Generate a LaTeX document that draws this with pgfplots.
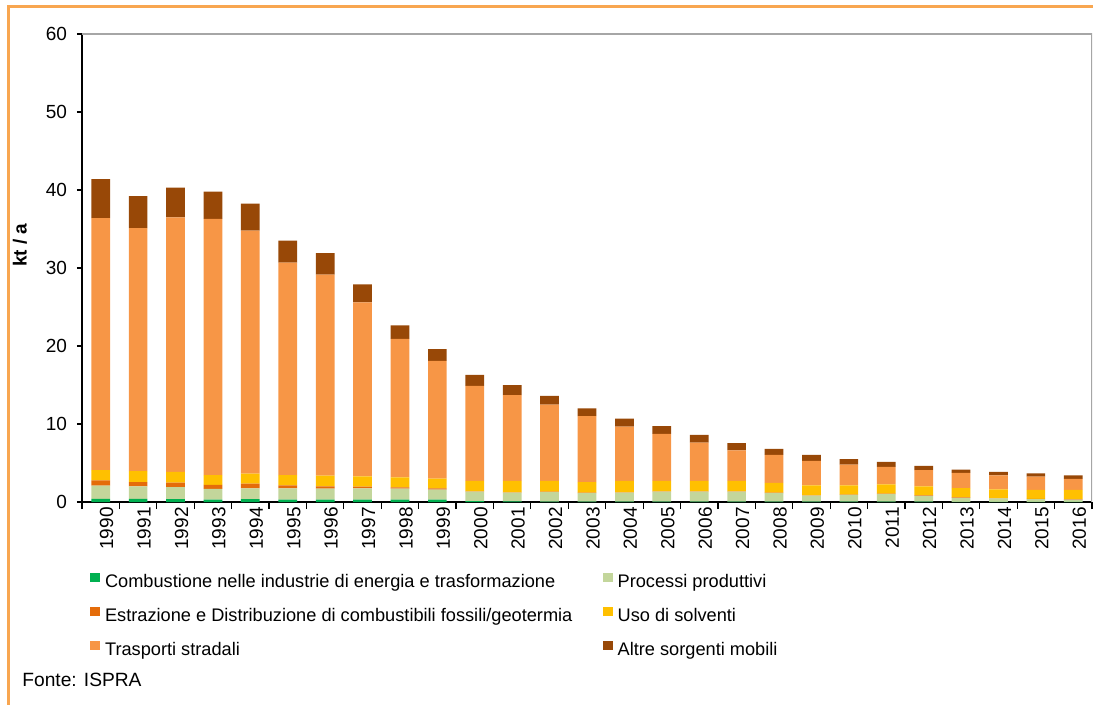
\documentclass[border=0pt]{standalone}
\usepackage{fontspec}
\setmainfont{Liberation Sans}
\usepackage{pgfplots}
\pgfplotsset{compat=1.18}
\usepackage{pgfplotstable}

\definecolor{combu}{RGB}{0,176,80}
\definecolor{proc}{RGB}{195,214,155}
\definecolor{estr}{RGB}{228,108,10}
\definecolor{solv}{RGB}{255,192,0}
\definecolor{trasp}{RGB}{247,150,70}
\definecolor{altre}{RGB}{152,72,7}
\definecolor{cornice}{RGB}{248,166,80}

% kt/a per settore, 1990-2016
\pgfplotstableread{
x year comb proc estr solv trasp altre
0  1990 0.40 1.70 0.68 1.32 32.30 5.00
1  1991 0.40 1.60 0.56 1.41 31.13 4.10
2  1992 0.38 1.54 0.56 1.37 32.65 3.80
3  1993 0.30 1.37 0.51 1.28 32.84 3.50
4  1994 0.38 1.37 0.60 1.28 31.17 3.45
5  1995 0.30 1.45 0.39 1.32 27.24 2.80
6  1996 0.30 1.41 0.29 1.38 25.77 2.75
7  1997 0.30 1.45 0.21 1.33 22.31 2.30
8  1998 0.30 1.41 0.17 1.28 17.74 1.75
9  1999 0.30 1.28 0.17 1.24 15.11 1.50
10 2000 0.10 1.22 0.05 1.33 12.20 1.40
11 2001 0.08 1.12 0.05 1.45 11.00 1.30
12 2002 0.06 1.22 0.05 1.37  9.80 1.10
13 2003 0.06 1.09 0.05 1.36  8.44 1.00
14 2004 0.05 1.15 0.05 1.45  6.95 1.05
15 2005 0.05 1.27 0.05 1.33  6.02 1.02
16 2006 0.05 1.27 0.05 1.33  4.90 0.99
17 2007 0.05 1.27 0.05 1.33  3.92 0.94
18 2008 0.05 1.10 0.05 1.24  3.59 0.77
19 2009 0.04 0.77 0.05 1.28  3.12 0.77
20 2010 0.04 0.86 0.06 1.18  2.65 0.71
21 2011 0.04 0.97 0.05 1.20  2.23 0.64
22 2012 0.04 0.75 0.05 1.16  2.10 0.52
23 2013 0.03 0.51 0.05 1.20  1.93 0.43
24 2014 0.03 0.42 0.05 1.12  1.80 0.43
25 2015 0.03 0.33 0.04 1.14  1.71 0.43
26 2016 0.03 0.29 0.04 1.18  1.41 0.47
}\emissioni

\begin{document}
\begin{tikzpicture}
\useasboundingbox (0,0) rectangle (546.5pt,-352.5pt);
\draw[cornice, line width=1.5pt] (4pt,-353pt) -- (4pt,-3.5pt) -- (547pt,-3.5pt);
\begin{axis}[
  at={(41pt,-251pt)}, anchor=south west,
  scale only axis, width=505pt, height=234pt,
  font=\fontsize{9.5}{11}\selectfont,
  /pgf/number format/assume math mode=true,
  ybar stacked, bar width=0.5,
  xmin=-0.5, xmax=26.5, ymin=0, ymax=60,
  axis lines*=left, axis line style={-, black, line width=0.6pt},
  tick align=outside, major tick length=2.5pt,
  tick style={black, line width=0.6pt},
  ytick={0,10,...,60},
  yticklabel style={xshift=-1.5pt},
  xtick={0,...,26},
  xticklabels from table={\emissioni}{year},
  major x tick style={draw=none},
  minor xtick={-0.5,0.5,...,26.5},
  minor tick length=3.5pt,
  xticklabel style={rotate=90, anchor=east, inner sep=0pt, yshift=-3pt},
  ylabel={\textbf{kt / a}},
  ylabel style={at={(axis description cs:-0.0614,0.549)}, anchor=center, rotate=0},
  legend columns=2,
  legend cell align=left,
  legend image code/.code={\fill[#1, draw=none] (0pt,0.5pt) rectangle (4.8pt,4.9pt);},
  legend style={at={(axis description cs:0.008,-0.1506)}, anchor=north west,
    draw=none, fill=none, inner sep=0pt, column sep=2.5pt, row sep=7.95pt,
    font=\fontsize{9.1}{11}\selectfont,
    nodes={inner sep=0pt, text height=6.5pt, text depth=1.8pt}},
]
\addplot[fill=combu, draw=none] table[x=x, y=comb]{\emissioni};
\addlegendentry{\makebox[246.5pt][l]{Combustione nelle industrie di energia e trasformazione}}
\addplot[fill=proc, draw=none] table[x=x, y=proc]{\emissioni};
\addlegendentry{Processi produttivi}
\addplot[fill=estr, draw=none] table[x=x, y=estr]{\emissioni};
\addlegendentry{\makebox[246.5pt][l]{Estrazione e Distribuzione di combustibili fossili/geotermia}}
\addplot[fill=solv, draw=none] table[x=x, y=solv]{\emissioni};
\addlegendentry{Uso di solventi}
\addplot[fill=trasp, draw=none] table[x=x, y=trasp]{\emissioni};
\addlegendentry{\makebox[246.5pt][l]{Trasporti stradali}}
\addplot[fill=altre, draw=none] table[x=x, y=altre]{\emissioni};
\addlegendentry{Altre sorgenti mobili}
\draw[gray!70, line width=0.6pt] (rel axis cs:0,1) -- (rel axis cs:1,1) -- (rel axis cs:1,0);
\end{axis}
\node[anchor=base west, font=\fontsize{9.6}{11}\selectfont, inner sep=0pt] at (11pt,-343pt) {Fonte: ISPRA};
\end{tikzpicture}
\end{document}
